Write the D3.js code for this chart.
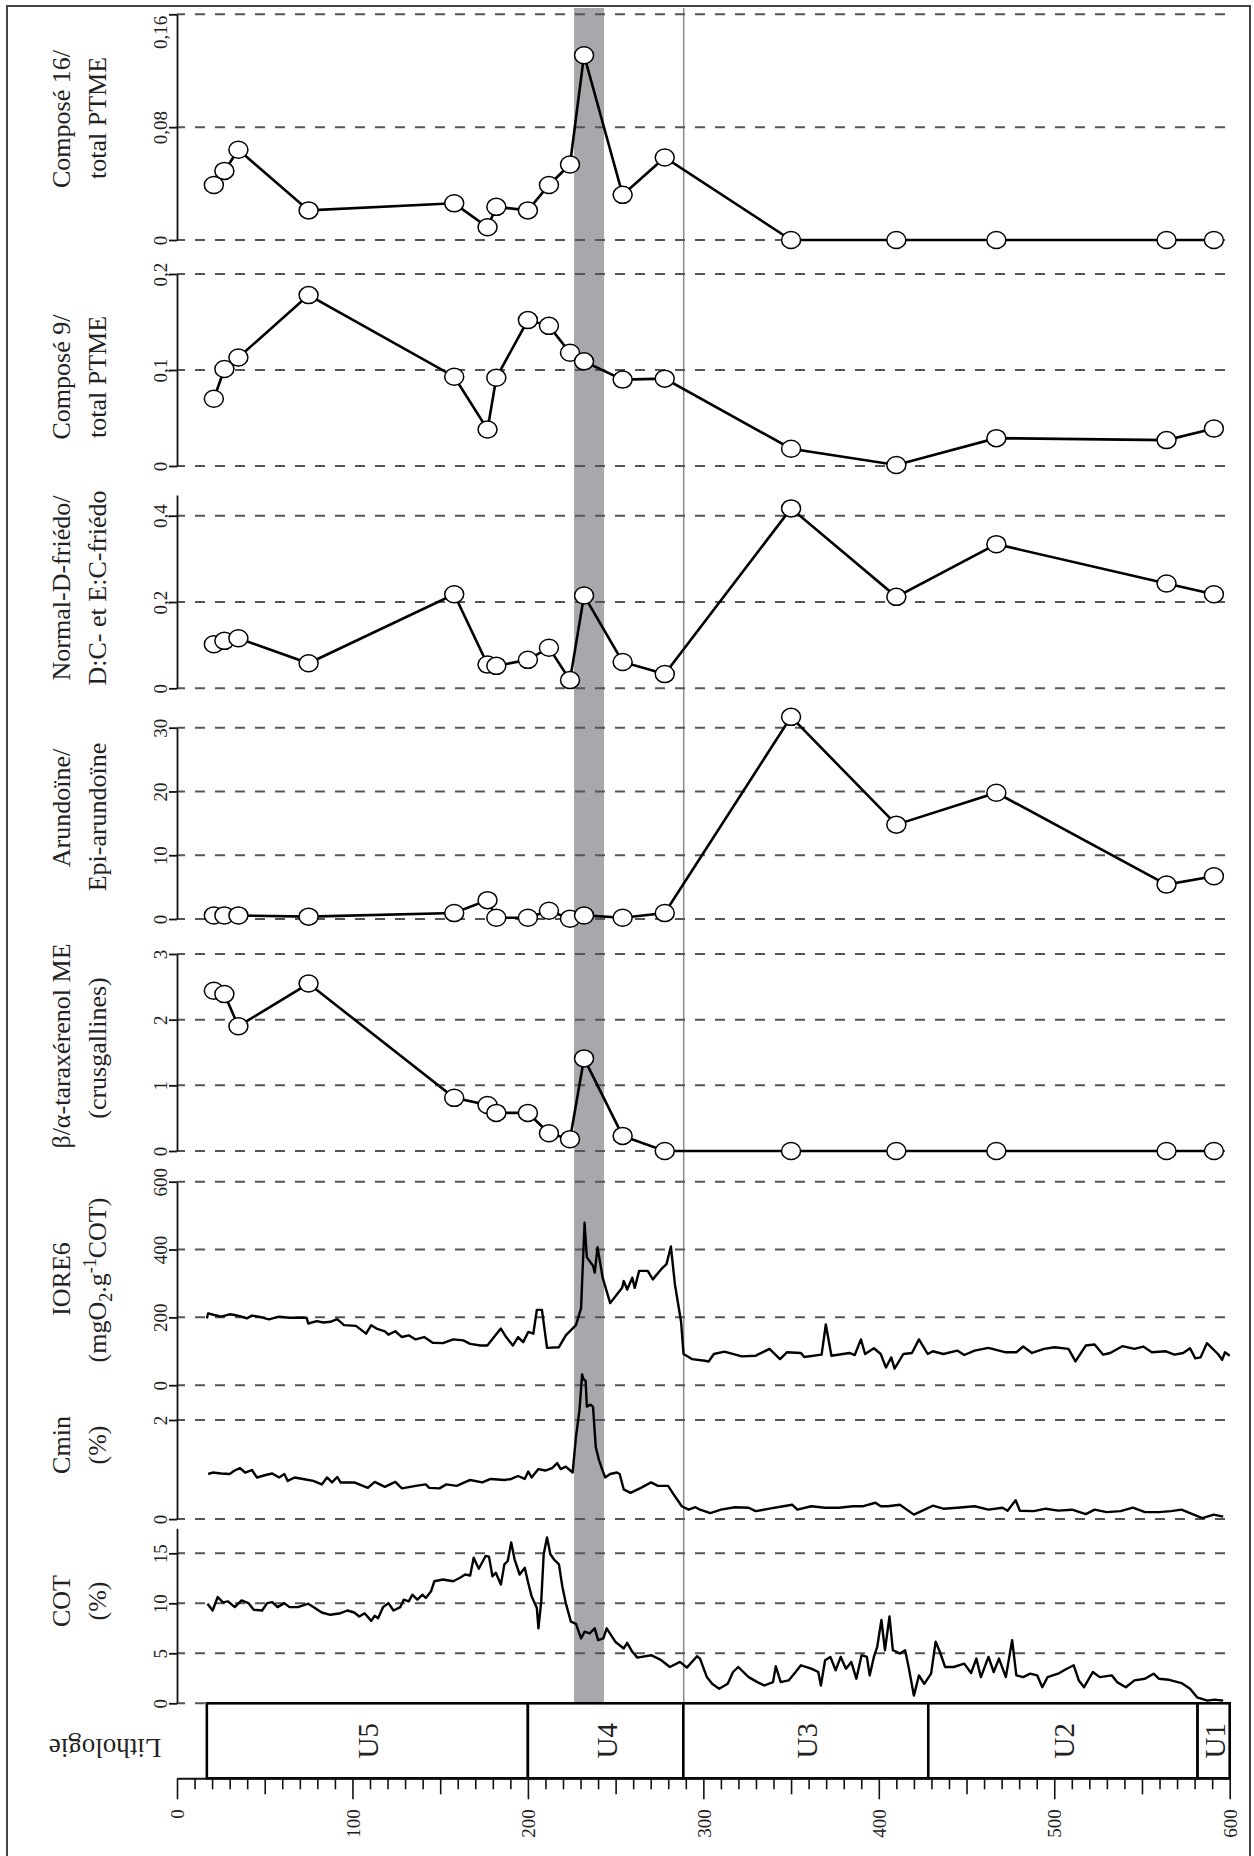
<!DOCTYPE html>
<html>
<head>
<meta charset="utf-8">
<script src="https://cdn.jsdelivr.net/npm/d3@7"></script>
<style>
  body { margin: 0; background: #fff; }
  text { font-family: "Liberation Serif", "DejaVu Serif", serif; fill: #222; }
</style>
</head>
<body>
<div id="chart"></div>
<script>
// Depth of the discrete samples (cm)
const sampleDepth = [21, 27, 35, 75, 158, 177, 182, 200, 212, 224, 232, 254, 278, 350, 410, 467, 564, 591];

// Discrete ratios, one value per sample
const c16Vals = [0.039, 0.049, 0.064, 0.021, 0.026, 0.009, 0.0235, 0.021, 0.039, 0.0535, 0.131, 0.032, 0.0585, 0, 0, 0, 0, 0];
const c9Vals = [0.070, 0.101, 0.113, 0.178, 0.093, 0.038, 0.092, 0.152, 0.146, 0.118, 0.109, 0.090, 0.091, 0.018, 0.001, 0.029, 0.027, 0.039];
const friedoVals = [0.102, 0.110, 0.116, 0.058, 0.218, 0.055, 0.052, 0.066, 0.094, 0.019, 0.215, 0.061, 0.033, 0.417, 0.212, 0.334, 0.243, 0.218];
const arundVals = [0.56, 0.56, 0.56, 0.37, 0.93, 2.96, 0.19, 0.19, 1.3, 0.05, 0.56, 0.19, 0.93, 31.7, 14.8, 19.8, 5.4, 6.7];
const taraxVals = [2.44, 2.39, 1.90, 2.55, 0.81, 0.70, 0.58, 0.58, 0.27, 0.18, 1.41, 0.23, 0, 0, 0, 0, 0, 0];

// Continuous profiles [depth, value]
const ioreData = [[17,197],[17.8,212],[21.3,207],[25.2,202],[30,209],[32.9,207],[36.8,202],[39.8,197],[42.7,205],[46.6,202],[52.4,194],[58.2,202],[64.1,199],[69.9,199],[73.8,199],[74.8,182],[79.6,189],[83.5,185],[87.4,187],[91.3,195],[95.2,177],[102,175],[107.8,152],[110.7,177],[113.7,167],[118.5,159],[120.5,149],[124.4,159],[128.2,142],[132.1,147],[136,135],[140.9,142],[145.7,125],[151.6,124],[157.4,135],[163.2,132],[167.1,122],[173,117],[176.9,117],[180.7,142],[184.6,167],[187.6,142],[191.4,117],[194.4,142],[197.3,127],[200.2,157],[203.1,152],[205.1,222],[208,222],[210.9,110],[217.7,112],[221.6,147],[227.4,177],[230.3,227],[232.3,479],[233.6,377],[237.1,352],[238.1,332],[239.7,407],[242.6,317],[246.9,242],[253.7,287],[254.6,307],[256.6,282],[259.5,317],[260.9,287],[263.4,337],[268.3,337],[271.2,312],[276,342],[279,357],[281.5,409],[283.8,297],[287.3,187],[288.7,92],[293.5,77],[300.9,72],[303,70],[306,92],[312,99],[321.9,85],[329.8,87],[337.7,107],[343.7,77],[347.6,97],[355.6,95],[357.5,83],[367.4,90],[369.8,179],[373,87],[383.3,95],[386.3,89],[389.8,135],[392.2,92],[397.2,109],[401.1,92],[404.1,52],[407.1,82],[409,49],[414,92],[418.9,95],[422.9,135],[427.9,92],[430.8,100],[436.8,92],[444.7,102],[448.7,89],[454.6,102],[462.5,110],[472.4,97],[478.4,97],[482.3,114],[487.3,95],[494.2,107],[500.2,112],[508.1,107],[512.1,70],[518,117],[523,120],[527.9,90],[531.9,95],[538.8,115],[545.7,107],[550.7,114],[555.6,97],[563.6,100],[568.5,90],[573.5,95],[577.4,109],[580.4,79],[583.4,82],[587,124],[593.3,92],[595.7,75],[597.3,97],[600,87]];

const cminData = [[17.8,0.91],[20.3,0.94],[25.2,0.92],[30,0.91],[32.9,0.98],[35.9,1.03],[38.8,0.94],[42.7,0.99],[45.6,0.84],[50.5,0.89],[54.3,0.92],[58.2,0.84],[61.2,0.91],[63.1,0.77],[67,0.84],[71.8,0.81],[77.7,0.77],[82.5,0.70],[85.5,0.84],[88.4,0.74],[91.3,0.85],[93.2,0.74],[101,0.74],[108.8,0.63],[112.7,0.75],[118.5,0.65],[124.4,0.75],[128.2,0.62],[136,0.67],[141.8,0.70],[143.8,0.63],[149.6,0.62],[153.5,0.70],[159.4,0.67],[167.1,0.79],[174,0.74],[178.8,0.81],[186.6,0.79],[190.5,0.81],[194.4,0.87],[198.2,0.81],[200.2,0.96],[202.1,0.84],[206,1.01],[209.9,0.98],[213.8,1.03],[216.7,1.13],[218.7,1.01],[221.6,1.06],[225.5,0.94],[227.4,1.66],[229.4,2.20],[230.9,2.92],[231.7,2.82],[232.9,2.79],[233.6,2.27],[235.6,2.31],[237.1,2.27],[238.7,1.45],[240.6,1.18],[242.6,0.98],[244,0.84],[246.9,0.91],[250.7,0.94],[252.3,0.91],[254.6,0.60],[258.5,0.53],[264.4,0.63],[270.2,0.74],[274.1,0.67],[279.9,0.67],[283.8,0.46],[287.7,0.26],[291.6,0.19],[295.5,0.24],[298.1,0.19],[304,0.12],[310,0.19],[317.9,0.24],[325.8,0.23],[329.8,0.16],[337.7,0.21],[345.6,0.26],[350.6,0.29],[353.6,0.19],[361.5,0.26],[369.4,0.23],[377.3,0.23],[385.3,0.26],[391.2,0.26],[398.1,0.33],[401.1,0.26],[405.1,0.26],[412,0.29],[420,0.09],[424.9,0.17],[430.8,0.27],[436.8,0.21],[444.7,0.23],[454.6,0.26],[462.5,0.19],[470.5,0.23],[473.4,0.17],[478,0.38],[480.4,0.17],[488.3,0.16],[495.2,0.21],[502.2,0.17],[510.1,0.19],[518,0.10],[523,0.19],[529.9,0.14],[537.8,0.16],[544.8,0.23],[551.7,0.14],[559.6,0.14],[566.5,0.16],[572.5,0.19],[577.4,0.12],[584.4,0.02],[590.9,0.09],[596.3,0.05]];

const cotData = [[17.4,9.96],[20.3,9.28],[23.2,10.63],[26.2,10.09],[29.1,10.19],[32.9,9.62],[36.8,10.29],[40.7,10.02],[43.7,9.35],[48.5,9.28],[51.4,10.02],[54.3,10.12],[57.3,9.62],[61.2,10.02],[64.1,9.62],[68.9,9.62],[74.8,9.96],[77.7,9.62],[82.5,9.08],[87.4,8.85],[93.2,9.01],[97.1,9.28],[101,9.08],[103.9,8.68],[106.9,9.01],[110.7,8.24],[112.7,8.75],[114.6,8.51],[117.5,9.62],[120.5,10.02],[123.4,9.28],[127.3,9.62],[129.2,10.36],[132.1,10.19],[134.1,10.86],[137,10.36],[139.9,10.86],[141.8,10.53],[144.8,11.2],[146.7,12.21],[151.6,12.38],[157.4,12.21],[161.3,12.55],[164.2,12.88],[167.1,12.78],[169.1,14.56],[172,13.45],[175.9,14.73],[177.8,14.67],[179.8,12.71],[181.7,13.05],[184.6,11.87],[186.6,13.89],[188.5,14.23],[190.5,16.08],[192.4,14.4],[195.3,12.88],[198.2,13.56],[200.2,12.04],[202.1,10.7],[205.1,9.52],[206,7.5],[207.6,10.19],[209,14.9],[210.9,16.58],[212.8,14.9],[214.8,14.4],[217.7,13.89],[219.6,11.71],[221.6,10.02],[224.5,8.17],[227.4,7.94],[230.3,6.49],[232.3,7.16],[235.2,7.0],[238.1,7.5],[240,6.32],[243,6.49],[244.9,7.5],[249.8,6.16],[254.6,5.48],[256.6,6.05],[259.5,5.15],[262.4,4.57],[270.2,4.81],[276,4.31],[280.9,3.63],[286.7,4.14],[290.6,3.57],[296.4,4.71],[298.1,4.47],[302,2.62],[305,1.95],[309,1.45],[313.9,1.95],[316.9,3.13],[319.9,3.63],[325.8,2.62],[330.8,2.12],[334.7,1.78],[339.7,2.12],[341.3,3.7],[344.1,2.12],[348.6,2.29],[352.6,3.13],[355.6,3.8],[361.5,3.46],[365.5,3.13],[367,1.78],[369.4,4.31],[372.4,4.64],[375.4,3.3],[378.3,4.64],[381.3,3.46],[384.3,4.14],[387.2,2.46],[390.2,4.81],[393.2,4.64],[394.8,2.79],[397.2,4.64],[399.1,5.65],[401.5,8.34],[403.5,5.31],[406.1,8.68],[408,5.31],[412,4.98],[415,5.31],[417,3.63],[420,0.77],[422.9,2.79],[425.9,1.95],[429.8,2.96],[432.4,6.16],[434.8,5.15],[437.8,3.63],[442.7,3.63],[448.7,3.97],[452.6,3.03],[455.6,4.47],[458.2,2.62],[462.5,4.64],[465.5,3.13],[468.5,4.47],[472.4,2.62],[476,6.32],[478.4,2.79],[482.3,2.62],[486.3,2.96],[490.3,2.79],[493.2,1.61],[496.2,2.62],[502.2,2.96],[506.1,3.36],[511.1,3.8],[514,2.29],[517,1.61],[522,3.13],[525.9,2.62],[532.9,2.79],[535.8,2.12],[540.8,1.61],[545.7,2.29],[551.7,2.46],[556.6,2.96],[559.6,2.46],[565.5,2.35],[572.5,2.02],[577.4,1.45],[581.4,0.6],[587.3,0.27],[591.3,0.37],[596.3,0.27]];

// Tick values
const c16Ticks = [0, 0.08, 0.16];
const c9Ticks = [0, 0.1, 0.2];
const friedoTicks = [0, 0.2, 0.4];
const arundTicks = [0, 10, 20, 30];
const taraxTicks = [0, 1, 2, 3];
const ioreTicks = [0, 200, 400, 600];
const cminTicks = [0, 2];
const cotTicks = [0, 5, 10, 15];
const depthLabels = [0, 100, 200, 300, 400, 500, 600];

// Lithology units
const unitNames = ["U5", "U4", "U3", "U2", "U1"];
const unitTop = [17, 200, 288.6, 428.2, 581.7];
const unitBase = [200, 288.6, 428.2, 581.7, 600];

// Highlighted interval and boundary
const bandFrom = 226.3, bandTo = 243.4;
const boundaryDepth = 288.8;

const width = 1254, height = 1856;
const svg = d3.select("#chart").append("svg")
    .attr("width", width)
    .attr("height", height);

const x = d3.scaleLinear().domain([0, 600]).range([177, 1229.7]);

const fmt = d3.formatLocale({ decimal: ",", thousands: " ", grouping: [3], currency: ["", ""] }).format("~g");

const samplePts = vals => vals.map((v, i) => [sampleDepth[i], v]);

const panels = [
    { title: ["Composé 16/", "total PTME"], titleY: [119, 118], domain: [0, 0.16], range: [240, 14.3], ticks: c16Ticks, pts: samplePts(c16Vals) },
    { title: ["Composé 9/", "total PTME"], titleY: [377, 377], domain: [0, 0.2], range: [466, 274], ticks: c9Ticks, pts: samplePts(c9Vals) },
    { title: ["Normal-D-friédo/", "D:C- et E:C-friédo"], titleY: [588, 588], domain: [0, 0.448], range: [688.3, 495], ticks: friedoTicks, pts: samplePts(friedoVals) },
    { title: ["Arundoïne/", "Epi-arundoïne"], titleY: [808, 817], domain: [0, 30], range: [919, 727.7], ticks: arundTicks, pts: samplePts(arundVals) },
    { title: ["β/α-taraxérenol ME", "(crusgallines)"], titleY: [1046, 1048], domain: [0, 3], range: [1151, 954], ticks: taraxTicks, pts: samplePts(taraxVals) },
    { title: ["IORE6", null], titleY: [1279, 1280], domain: [0, 600], range: [1385.2, 1181.7], ticks: ioreTicks, profile: ioreData },
    { title: ["Cmin", "(%)"], titleY: [1445, 1445], domain: [0, 2.7], range: [1519.1, 1385.3], ticks: cminTicks, profile: cminData },
    { title: ["COT", "(%)"], titleY: [1601, 1601], domain: [0, 17.5], range: [1703.3, 1528.3], ticks: cotTicks, profile: cotData }
];

// frame
svg.append("rect")
    .attr("x", 7).attr("y", 6)
    .attr("width", 1243).attr("height", 1900)
    .attr("fill", "none").attr("stroke", "#444").attr("stroke-width", 2);

// grey interval + boundary line
svg.append("rect")
    .attr("x", x(bandFrom)).attr("y", 8)
    .attr("width", x(bandTo) - x(bandFrom)).attr("height", 1703.3 - 8)
    .attr("fill", "#a7a8ab");

svg.append("line")
    .attr("x1", x(boundaryDepth)).attr("x2", x(boundaryDepth))
    .attr("y1", 8).attr("y2", 1703.3)
    .attr("stroke", "#8a8a8a").attr("stroke-width", 1.5);

panels.forEach(p => {
    const y = d3.scaleLinear().domain(p.domain).range(p.range);
    const g = svg.append("g");

    // dashed grid
    g.selectAll("line.grid")
        .data(p.ticks)
        .join("line")
        .attr("class", "grid")
        .attr("x1", x(0)).attr("x2", x(600))
        .attr("y1", d => y(d)).attr("y2", d => y(d))
        .attr("stroke", "#555")
        .attr("stroke-width", 2)
        .attr("stroke-dasharray", "10,10")
        .attr("stroke-dashoffset", 2);

    // value axis
    const ax = g.append("g")
        .attr("transform", `translate(${x(0)},0)`)
        .call(d3.axisLeft(y).tickValues(p.ticks).tickSize(8).tickSizeOuter(0).tickFormat(fmt));
    ax.select(".domain").attr("stroke", "#111").attr("stroke-width", 1.8);
    ax.selectAll(".tick line").attr("stroke", "#111").attr("stroke-width", 1.8);
    ax.selectAll(".tick text")
        .attr("x", null).attr("dy", null)
        // a label too close to the top edge hangs below its tick
        .attr("text-anchor", d => y(d) < 30 ? "end" : "middle")
        .attr("transform", d => y(d) < 30 ? "translate(-10,1) rotate(-90)" : "translate(-10,0) rotate(-90)")
        .style("font-family", "Liberation Serif")
        .style("font-size", "19px")
        .attr("fill", "#222");

    // title
    svg.append("text")
        .attr("transform", `translate(70,${p.titleY[0]}) rotate(-90)`)
        .attr("text-anchor", "middle")
        .style("font-size", "26px")
        .text(p.title[0]);
    if (p.title[1] !== null) {
        svg.append("text")
            .attr("transform", `translate(106,${p.titleY[1]}) rotate(-90)`)
            .attr("text-anchor", "middle")
            .style("font-size", "26px")
            .text(p.title[1]);
    } else {
        const t2 = svg.append("text")
            .attr("transform", `translate(106,${p.titleY[1]}) rotate(-90)`)
            .attr("text-anchor", "middle")
            .style("font-size", "26px");
        t2.append("tspan").text("(mgO");
        t2.append("tspan").attr("dy", 6).style("font-size", "18px").text("2");
        t2.append("tspan").attr("dy", -6).text(".g");
        t2.append("tspan").attr("dy", -10).style("font-size", "18px").text("-1");
        t2.append("tspan").attr("dy", 10).text("COT)");
    }

    const line = d3.line().x(d => x(d[0])).y(d => y(d[1]));

    if (p.profile) {
        g.append("path")
            .datum(p.profile)
            .attr("d", line)
            .attr("fill", "none")
            .attr("stroke", "#000")
            .attr("stroke-width", 2.4)
            .attr("stroke-linejoin", "round");
    } else {
        g.append("path")
            .datum(p.pts)
            .attr("d", line)
            .attr("fill", "none")
            .attr("stroke", "#000")
            .attr("stroke-width", 2.6);
        g.selectAll("ellipse")
            .data(p.pts)
            .join("ellipse")
            .attr("cx", d => x(d[0]))
            .attr("cy", d => y(d[1]))
            .attr("rx", 9.5).attr("ry", 8.5)
            .attr("fill", "#fff")
            .attr("stroke", "#000")
            .attr("stroke-width", 1.5);
    }
});

// lithology column
const lithTop = 1703.3, lithBot = 1778.3;
const lith = svg.append("g");
lith.selectAll("rect")
    .data(unitNames)
    .join("rect")
    .attr("x", (d, i) => x(unitTop[i]))
    .attr("y", lithTop)
    .attr("width", (d, i) => x(unitBase[i]) - x(unitTop[i]))
    .attr("height", lithBot - lithTop)
    .attr("fill", "#fff")
    .attr("stroke", "#000")
    .attr("stroke-width", 2.6);
lith.selectAll("text")
    .data(unitNames)
    .join("text")
    .attr("transform", (d, i) => `translate(${(x(unitTop[i]) + x(unitBase[i])) / 2},${(lithTop + lithBot) / 2}) rotate(-90)`)
    .attr("text-anchor", "middle")
    .attr("dy", "0.38em")
    .style("font-size", "29px")
    .attr("fill", "#333")
    .text(d => d);

svg.append("text")
    .attr("transform", "translate(105,1739) rotate(180)")
    .attr("text-anchor", "middle")
    .style("font-size", "27px")
    .text("Lithologie");

// depth axis
const depthAxis = svg.append("g")
    .attr("transform", `translate(0,${lithBot})`)
    .call(d3.axisBottom(x)
        .tickValues(d3.range(0, 601, 10))
        .tickSize(11)
        .tickSizeOuter(0)
        .tickFormat(d => depthLabels.includes(d) ? d : ""));
depthAxis.select(".domain").attr("stroke", "#111").attr("stroke-width", 2);
depthAxis.selectAll(".tick line")
    .attr("stroke", "#111").attr("stroke-width", 1.6)
    .attr("y2", d => d % 100 === 0 ? 21 : (d % 50 === 0 ? 16 : 11));
depthAxis.selectAll(".tick text")
    .attr("y", null)
    .attr("dy", "0.35em")
    .attr("text-anchor", "end")
    .attr("transform", "translate(0,31) rotate(-90)")
    .style("font-family", "Liberation Serif")
    .style("font-size", "19px")
    .attr("fill", "#222");
</script>
</body>
</html>
